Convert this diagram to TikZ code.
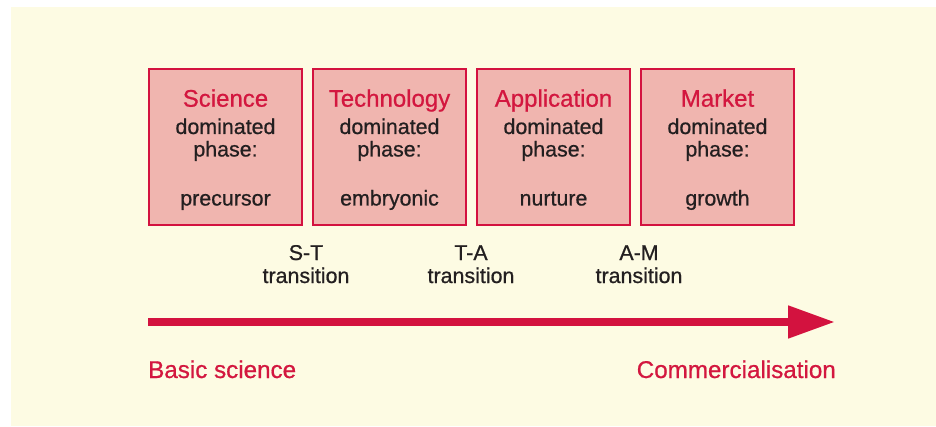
\documentclass[tikz,border=0pt]{standalone}
\usepackage{fontspec}
\setmainfont{Liberation Sans}
\newfontfamily\medfont{Liberation Sans}[FakeBold=0.7]
\usetikzlibrary{arrows.meta}
\definecolor{bgcream}{HTML}{FDFBE3}
\definecolor{boxred}{HTML}{D3123F}
\definecolor{boxfill}{HTML}{F0B5AF}
\definecolor{txtred}{HTML}{D3173F}
\definecolor{txtdark}{HTML}{231F20}
\tikzset{
  phasebox/.style={draw=boxred, fill=boxfill, line width=2pt, minimum width=153pt, minimum height=156pt, inner sep=0pt},
  titletext/.style={anchor=base, inner sep=0pt, text=txtred, font=\medfont\fontsize{24}{28}\selectfont},
  bodytext/.style={anchor=base, inner sep=0pt, text=txtdark, font=\medfont\fontsize{21.4}{25}\selectfont},
  endtext/.style={inner sep=0pt, text=txtred, font=\medfont\fontsize{24.2}{28}\selectfont},
}
\begin{document}
\begin{tikzpicture}[x=1pt,y=1pt]
\useasboundingbox (0,0) rectangle (936,426);
\fill[white] (0,0) rectangle (936,426);
\fill[bgcream] (11,0) rectangle (936,419);
% boxes
\foreach \n/\cx/\ttl/\lst in {1/225.5/Science/precursor, 2/389.5/Technology/embryonic, 3/553.5/Application/nurture, 4/717.5/Market/growth}{
  \node[phasebox] (box\n) at (\cx,279) {};
  \node[titletext] (title\n) at (\cx,319.3) {\ttl};
  \node[bodytext] (dom\n) at (\cx,292) {dominated};
  \node[bodytext] (phase\n) at (\cx,269.5) {phase:};
  \node[bodytext] (stage\n) at (\cx,220.5) {\lst};
}
% transitions
\foreach \n/\cx/\lbl in {1/306/S-T, 2/471/T-A, 3/639/A-M}{
  \node[bodytext] (tr\n) at (\cx,166) {\lbl};
  \node[bodytext] (trw\n) at (\cx,143) {transition};
}
% arrow
\coordinate (arrowstart) at (148,104);
\coordinate (arrowend) at (835,104);
\draw[boxred, line width=8pt, -{Triangle[length=47pt,width=31pt]}] (arrowstart) -- (arrowend);
\node[endtext, anchor=base west] (basic) at (148,48) {Basic science};
\node[endtext, anchor=base east] (comm) at (836,48) {Commercialisation};
\end{tikzpicture}
\end{document}
